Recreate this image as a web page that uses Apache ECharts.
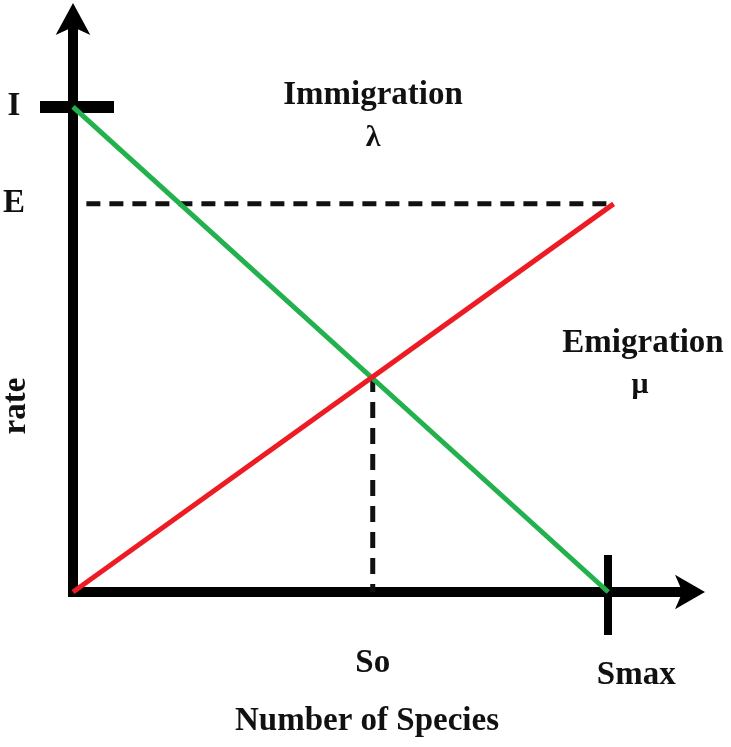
<!DOCTYPE html>
<html lang="en">
<head>
    <meta charset="utf-8">
    <title>Immigration / Emigration rate</title>
    <script src="https://cdn.jsdelivr.net/npm/echarts@6/dist/echarts.min.js"></script>
    <style>
        html, body { margin: 0; padding: 0; background: #fff; }
        #main { width: 731px; height: 747px; }
    </style>
</head>
<body>
    <div id="main"></div>
    <script type="text/javascript">
    // values (rate scaled so that I = 1, Smax = 1)
    var rateI = 1.0;
    var rateE = 0.8;
    var sZero = 0.56;
    var sMax = 1.0;

    var immigration = [[0, 1.0], [1.0, 0]];          // green, lambda
    var emigration = [[0, 0], [1.01, 0.8]];          // red, mu
    var eLevel = [[0.025, 0.8], [1.01, 0.8]];        // dashed E line
    var soDrop = [[0.56, 0.445], [0.56, 0]];         // dashed So line

    var xTickValues = [sZero, sMax];
    var xTickLabels = ['So', 'Smax'];
    var yTickValues = [rateE, rateI];
    var yTickLabels = ['E', 'I'];

    var serif = '"Liberation Serif", "DejaVu Serif", serif';

    var myChart = echarts.init(document.getElementById('main'));

    myChart.setOption({
        animation: false,
        backgroundColor: '#fff',
        grid: { left: 71, right: 43, top: 20, bottom: 155 },
        xAxis: [{
            type: 'value', min: 0, max: 1.149, position: 'bottom',
            splitLine: { show: false },
            axisLine: {
                show: true, onZero: false,
                lineStyle: { color: '#000', width: 10, cap: 'square' },
                symbol: ['none', 'arrow'], symbolSize: [26, 30], symbolOffset: [0, 17]
            },
            axisTick: {
                show: true, customValues: [sMax], length: 43,
                lineStyle: { color: '#000', width: 8 }
            },
            axisLabel: {
                customValues: xTickValues, margin: 55,
                formatter: function (v) {
                    var i = xTickValues.indexOf(v);
                    return i === 1 ? '{b|' + xTickLabels[i] + '}' : '{a|' + xTickLabels[i] + '}';
                },
                rich: {
                    a: { fontFamily: serif, fontWeight: 'bold', fontSize: 33, color: '#111' },
                    b: { fontFamily: serif, fontWeight: 'bold', fontSize: 33, color: '#111', padding: [12, 0, 0, 56] }
                }
            },
            name: 'Number of Species', nameLocation: 'middle', nameGap: 113,
            nameTextStyle: { fontFamily: serif, fontWeight: 'bold', fontSize: 33, color: '#111', padding: [0, 27, 0, 0] }
        }, {
            type: 'value', min: 0, max: 1.149, position: 'bottom',
            splitLine: { show: false },
            axisLine: { show: false },
            axisTick: {
                show: true, inside: true, customValues: [sMax], length: 37,
                lineStyle: { color: '#000', width: 8 }
            },
            axisLabel: { show: false }
        }],
        yAxis: [{
            type: 'value', min: 0, max: 1.179, position: 'left',
            splitLine: { show: false },
            axisLine: {
                show: true, onZero: false,
                lineStyle: { color: '#000', width: 10, cap: 'square' },
                symbol: ['none', 'arrow'], symbolSize: [26, 32], symbolOffset: [0, 17]
            },
            axisTick: {
                show: true, customValues: [rateI], length: 33,
                lineStyle: { color: '#000', width: 12 }
            },
            axisLabel: {
                customValues: yTickValues, margin: 59, align: 'center',
                fontFamily: serif, fontWeight: 'bold', fontSize: 33, color: '#111',
                formatter: function (v) {
                    return yTickLabels[yTickValues.indexOf(v)];
                }
            }
        }, {
            type: 'value', min: 0, max: 1.179, position: 'left',
            splitLine: { show: false },
            axisLine: { show: false },
            axisTick: {
                show: true, inside: true, customValues: [rateI], length: 41,
                lineStyle: { color: '#000', width: 12 }
            },
            axisLabel: { show: false }
        }],
        series: [{
            name: 'E level', type: 'line', data: eLevel, symbol: 'none',
            lineStyle: { color: '#111', width: 5, type: [14, 9] }
        }, {
            name: 'So', type: 'line', data: soDrop, symbol: 'none',
            lineStyle: { color: '#111', width: 5, type: [16, 10] }
        }, {
            name: 'Immigration', type: 'line', data: immigration, symbol: 'none',
            lineStyle: { color: '#22b14c', width: 5 }
        }, {
            name: 'Emigration', type: 'line', data: emigration, symbol: 'none',
            lineStyle: { color: '#ed1c24', width: 5 }
        }],
        graphic: [
            { type: 'text', x: 373, y: 95, style: { text: 'Immigration', font: 'bold 33px ' + serif, fill: '#111', align: 'center', verticalAlign: 'middle' } },
            { type: 'text', x: 373, y: 138, style: { text: 'λ', font: 'bold 30px ' + serif, fill: '#111', align: 'center', verticalAlign: 'middle' } },
            { type: 'text', x: 643, y: 343, style: { text: 'Emigration', font: 'bold 33px ' + serif, fill: '#111', align: 'center', verticalAlign: 'middle' } },
            { type: 'text', x: 640, y: 385, style: { text: 'μ', font: 'bold 30px ' + serif, fill: '#111', align: 'center', verticalAlign: 'middle' } },
            { type: 'text', x: 16, y: 406, rotation: Math.PI / 2, style: { text: 'rate', font: 'bold 33px ' + serif, fill: '#111', align: 'center', verticalAlign: 'middle' } }
        ]
    });
    </script>
</body>
</html>
